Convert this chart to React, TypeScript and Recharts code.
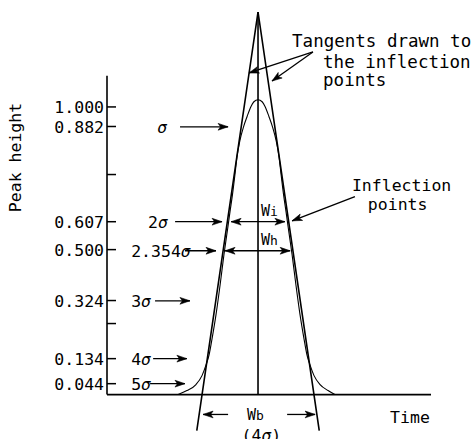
import React from 'react';
import { LineChart, Line, XAxis, YAxis, ReferenceLine, ReferenceDot } from 'recharts';

// Peak curve (x in σ-units from the peak centre, y in peak-height units)
const curveX = [-2.91, -2.59, -2.26, -2.04, -1.89, -1.78, -1.68, -1.53, -1.38, -1.24, -1.11, -1.02, -0.93, -0.84, -0.77, -0.66, -0.53, -0.40, -0.26, -0.15, 0, 0.15, 0.26, 0.40, 0.53, 0.66, 0.77, 0.84, 0.93, 1.02, 1.11, 1.24, 1.38, 1.53, 1.68, 1.78, 1.89, 2.04, 2.26, 2.55, 2.80];
const curveY = [0, 0.014, 0.035, 0.066, 0.104, 0.139, 0.191, 0.278, 0.382, 0.487, 0.574, 0.636, 0.695, 0.765, 0.824, 0.883, 0.93, 0.966, 1.001, 1.018, 1.025, 1.018, 1.001, 0.966, 0.93, 0.883, 0.824, 0.765, 0.695, 0.636, 0.574, 0.487, 0.382, 0.278, 0.191, 0.139, 0.104, 0.066, 0.035, 0.014, 0];

// Tangents drawn to the inflection points
const tangentX = [-2.23, 0, 2.23];
const tangentY = [-0.125, 1.33, -0.125];

// Y-axis ticks (positions as drawn) and their labels
const tickPositions = [1.0, 0.932, 0.765, 0.601, 0.504, 0.327, 0.247, 0.125, 0.038];
const tickLabels = ['1.000', '0.882', '', '0.607', '0.500', '0.324', '', '0.134', '0.044'];

// Arrows: [x1, y1, x2 (tip), y2 (tip)]
const arrowsFrom = [
  [-2.84, 0.931, -1.09, 0.931],
  [-3.02, 0.601, -1.31, 0.601],
  [-2.66, 0.5, -1.53, 0.5],
  [-3.75, 0.326, -2.48, 0.326],
  [-3.82, 0.125, -2.59, 0.125],
  [-3.93, 0.038, -2.66, 0.038],
  [3.53, 0.688, 1.24, 0.604],
  [2.0, 1.191, -0.33, 1.118],
  [2.0, 1.191, 0.51, 1.09],
  [-1.09, -0.069, -2.0, -0.069],
  [1.06, -0.069, 2.08, -0.069],
];
// Double-headed width arrows: [xLeft, xRight, y]
const widthArrows = [
  [-0.98, 0.98, 0.601],
  [-1.2, 1.17, 0.5],
];

// Text labels
const labelText = ['σ', '2σ', '2.354σ', '3σ', '4σ', '5σ', 'Inflection', 'points', 'Tangents drawn to', 'the inflection', 'points', 'Time', '(4σ)'];
const labelX = [-3.31, -3.28, -4.62, -4.62, -4.62, -4.62, 3.42, 4.0, 1.24, 2.37, 2.37, 4.81, -0.6];
const labelY = [0.931, 0.601, 0.5, 0.326, 0.125, 0.038, 0.708, 0.642, 1.208, 1.136, 1.073, -0.097, -0.163];
const widthLabels = [
  { x: 0.11, y: 0.622, main: 'W', sub: 'i' },
  { x: 0.11, y: 0.521, main: 'W', sub: 'h' },
  { x: -0.4, y: -0.087, main: 'W', sub: 'b' },
];

const FONT = "'DejaVu Sans Mono', 'Liberation Mono', monospace";

const curveData = curveX.map((x, i) => ({ x, y: curveY[i] }));
const tangentData = tangentX.map((x, i) => ({ x, y: tangentY[i] }));

function rich(text: string) {
  const parts = text.split('σ');
  const out: React.ReactNode[] = [];
  parts.forEach((p, i) => {
    if (p) out.push(<tspan key={'p' + i}>{p}</tspan>);
    if (i < parts.length - 1) out.push(<tspan key={'s' + i} fontStyle="italic">σ</tspan>);
  });
  return out;
}

function head(x1: number, y1: number, x2: number, y2: number) {
  const dx = x2 - x1;
  const dy = y2 - y1;
  const len = Math.sqrt(dx * dx + dy * dy) || 1;
  const ux = dx / len;
  const uy = dy / len;
  const L = 10;
  const W = 3.4;
  const bx = x2 - ux * L;
  const by = y2 - uy * L;
  const nx = x2 - ux * (L - 2.5);
  const ny = y2 - uy * (L - 2.5);
  return `${x2},${y2} ${bx - uy * W},${by + ux * W} ${nx},${ny} ${bx + uy * W},${by - ux * W}`;
}

const ArrowShape = (props: any) => {
  const { x1, y1, x2, y2 } = props;
  return (
    <g>
      <line x1={x1} y1={y1} x2={x2} y2={y2} stroke="#000" strokeWidth={1.3} />
      <polygon points={head(x1, y1, x2, y2)} fill="#000" stroke="#000" strokeWidth={0.6} />
    </g>
  );
};

const DoubleArrowShape = (props: any) => {
  const { x1, y1, x2, y2 } = props;
  const mx = (x1 + x2) / 2;
  const my = (y1 + y2) / 2;
  return (
    <g>
      <line x1={x1} y1={y1} x2={x2} y2={y2} stroke="#000" strokeWidth={1.3} />
      <polygon points={head(mx, my, x1, y1)} fill="#000" stroke="#000" strokeWidth={0.6} />
      <polygon points={head(mx, my, x2, y2)} fill="#000" stroke="#000" strokeWidth={0.6} />
    </g>
  );
};

const YTick = (props: any) => {
  const { x, y, payload } = props;
  const idx = tickPositions.indexOf(payload.value);
  const label = idx >= 0 ? tickLabels[idx] : '';
  return (
    <g>
      <line x1={x} y1={y} x2={x + 9} y2={y} stroke="#000" strokeWidth={1.5} />
      {label ? (
        <text x={x - 3} y={y} dy="0.37em" textAnchor="end" fontFamily={FONT} fontSize={16.5} fill="#000">
          {label}
        </text>
      ) : null}
    </g>
  );
};

const YLabel = () => (
  <text
    x={21}
    y={157.5}
    transform="rotate(-90, 21, 157.5)"
    textAnchor="middle"
    fontFamily={FONT}
    fontSize={16.5}
    fill="#000"
  >
    Peak height
  </text>
);

export default function App() {
  return (
    <div style={{ position: 'absolute', left: 0, top: 0 }}>
      <LineChart
        width={474}
        height={439}
        margin={{ top: 12, right: 43, bottom: 7, left: 0 }}
        style={{ background: '#fff' }}
      >
        <XAxis type="number" dataKey="x" domain={[-5.5, 6.3]} allowDataOverflow hide />
        <YAxis
          type="number"
          dataKey="y"
          domain={[-0.13, 1.33]}
          allowDataOverflow
          width={107}
          axisLine={false}
          tickLine={false}
          tickSize={0}
          tickMargin={0}
          ticks={tickPositions}
          interval={0}
          tick={<YTick />}
          label={<YLabel />}
        />
        {/* axes */}
        <ReferenceLine segment={[{ x: -5.5, y: 0 }, { x: -5.5, y: 1.108 }]} stroke="#000" strokeWidth={1.6} ifOverflow="visible" />
        <ReferenceLine segment={[{ x: -5.5, y: 0 }, { x: 6.3, y: 0 }]} stroke="#000" strokeWidth={1.6} ifOverflow="visible" />
        {/* centre line */}
        <ReferenceLine segment={[{ x: 0, y: 0 }, { x: 0, y: 1.33 }]} stroke="#000" strokeWidth={1.6} ifOverflow="visible" />
        <Line
          data={tangentData}
          dataKey="y"
          type="linear"
          stroke="#000"
          strokeWidth={1.6}
          dot={false}
          isAnimationActive={false}
        />
        <Line
          data={curveData}
          dataKey="y"
          type="monotone"
          stroke="#000"
          strokeWidth={1.1}
          dot={false}
          isAnimationActive={false}
        />
        {arrowsFrom.map((a, i) => (
          <ReferenceLine
            key={'a' + i}
            segment={[{ x: a[0], y: a[1] }, { x: a[2], y: a[3] }]}
            ifOverflow="visible"
            shape={<ArrowShape />}
          />
        ))}
        {widthArrows.map((a, i) => (
          <ReferenceLine
            key={'w' + i}
            segment={[{ x: a[0], y: a[2] }, { x: a[1], y: a[2] }]}
            ifOverflow="visible"
            shape={<DoubleArrowShape />}
          />
        ))}
        {labelText.map((t, i) => {
          const isLeft = i < 6;
          return (
            <ReferenceDot
              key={'t' + i}
              x={labelX[i]}
              y={labelY[i]}
              ifOverflow="visible"
              shape={(p: any) => (
                <text
                  x={p.cx}
                  y={p.cy}
                  dy={isLeft ? '0.37em' : 0}
                  textAnchor={i < 2 ? 'end' : 'start'}
                  fontFamily={FONT}
                  fontSize={i >= 8 && i <= 10 ? 17.5 : 16.5}
                  fill="#000"
                >
                  {rich(t)}
                </text>
              )}
            />
          );
        })}
        {widthLabels.map((w, i) => (
          <ReferenceDot
            key={'wl' + i}
            x={w.x}
            y={w.y}
            ifOverflow="visible"
            shape={(p: any) => (
              <text x={p.cx} y={p.cy} fontFamily={FONT} fontSize={15} fill="#000">
                {w.main}
                <tspan fontSize={13}>{w.sub}</tspan>
              </text>
            )}
          />
        ))}
      </LineChart>
    </div>
  );
}
